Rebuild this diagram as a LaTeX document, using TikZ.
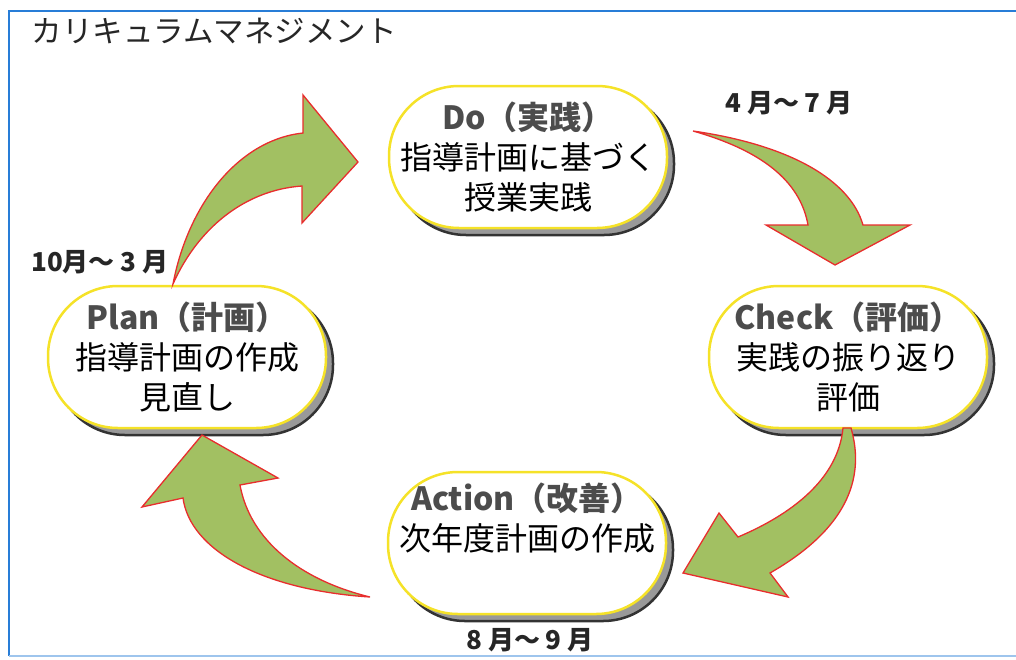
\documentclass[tikz,border=0pt]{standalone}
\usepackage{fontspec}
\usepackage{tikz}
\usetikzlibrary{shadows}
\newfontfamily\jpfont{Noto Sans CJK JP}

\definecolor{frameblue}{RGB}{40,125,215}
\definecolor{leafgreen}{RGB}{162,192,98}
\definecolor{edgered}{RGB}{232,45,45}
\definecolor{ringyellow}{RGB}{245,226,40}

\tikzset{
  stagebox/.style={rectangle, rounded corners=70pt, draw=ringyellow, line width=2.5pt, fill=white,
    minimum width=278pt, minimum height=142pt, align=center, inner sep=0pt,
    font=\jpfont\fontsize{32}{40}\selectfont,
    drop shadow={shadow xshift=7pt, shadow yshift=-7pt, fill=black!40, draw=black!80, opacity=1}},
  cyclearrow/.style={draw=edgered, line width=1.3pt, fill=leafgreen, line join=miter},
  monthlabel/.style={font=\jpfont\bfseries\fontsize{26}{28}\selectfont, text=black!85}
}
\newcommand{\headline}[1]{{\bfseries\color{black!70}#1}}

\begin{document}
\begin{tikzpicture}[x=1pt,y=-1pt]
\useasboundingbox (0,0) rectangle (1016,659);

%frame
\draw [frameblue, line width=2.5pt] (1016,11) -- (9,11) -- (9,656);
\draw [frameblue!45, line width=2pt] (9,656) -- (1016,656);

%title
\node (title) [anchor=west, font=\jpfont\fontsize{30.5}{32}\selectfont, text=black!85] at (28,31) {カリキュラムマネジメント};

%stages
\node (do) [stagebox] at (528,157) {\headline{Do（実践）}\\指導計画に基づく\\授業実践};
\node (check) [stagebox] at (848,357) {\headline{Check（評価）}\\実践の振り返り\\評価};
\node (plan) [stagebox] at (187,357) {\headline{Plan（計画）}\\指導計画の作成\\見直し};
\node (action) [stagebox] at (527,543) {\headline{Action（改善）}\\次年度計画の作成\\\strut};

%months
\node (m47) [monthlabel] at (789,103) {4 月〜 7 月};
\node (m103) [monthlabel] at (100,262) {10月〜 3 月};
\node (m89) [monthlabel] at (530,640) {8 月〜 9 月};

%Plan -> Do
\draw [cyclearrow] (173,284) .. controls (188,205) and (238,140) .. (303,133) -- (303,95) -- (358,162) -- (302,223) -- (302,186) .. controls (245,190) and (198,228) .. (173,284) -- cycle;
%Do -> Check
\draw [cyclearrow] (693,131) .. controls (790,145) and (850,180) .. (863,225) -- (910,225) -- (835,265) -- (766,225) -- (808,225) .. controls (800,180) and (760,150) .. (693,131) -- cycle;
%Check -> Action
\draw [cyclearrow] (851,428) .. controls (866,480) and (845,530) .. (770,573) -- (788,597) -- (683,573) -- (719,513) -- (738,537) .. controls (790,515) and (838,480) .. (843,428) -- cycle;
%Action -> Plan
\draw [cyclearrow] (370,597) .. controls (262,590) and (190,550) .. (183,498) -- (142,507) -- (202,435) -- (278,478) -- (240,485) .. controls (250,540) and (300,580) .. (370,597) -- cycle;
\end{tikzpicture}
\end{document}
